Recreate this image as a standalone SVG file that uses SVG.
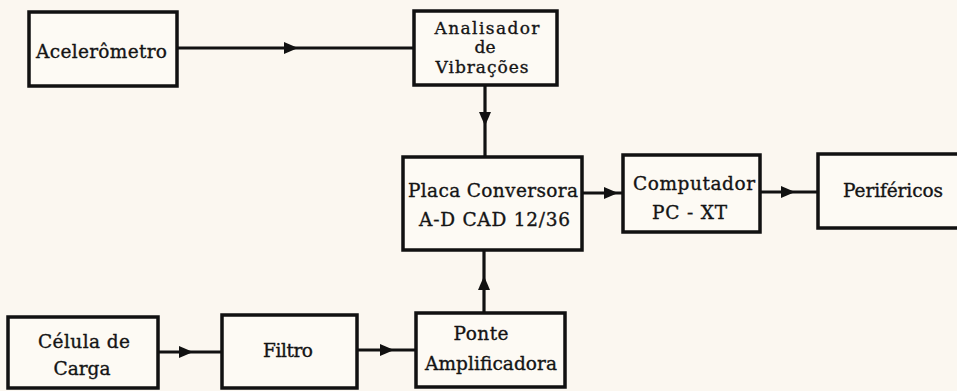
<svg xmlns="http://www.w3.org/2000/svg" width="957" height="391" viewBox="0 0 957 391">
<style>
.box{fill:#fdfaf4;stroke:#111;stroke-width:3.5}
.t{font-family:"DejaVu Serif","Liberation Serif",serif;font-size:18.5px;fill:#141414;stroke:#141414;stroke-width:0.35;text-anchor:middle}
.s{font-size:17px}
.c{fill:none;stroke:#111;stroke-width:3.2;marker-mid:url(#ah)}
</style>
<defs>
<marker id="ah" markerUnits="userSpaceOnUse" markerWidth="14" markerHeight="12" refX="13" refY="6" orient="auto" viewBox="0 0 14 12">
<path d="M0,0 L14,6 L0,12 z" fill="#111"/>
</marker>
</defs>
<rect width="957" height="391" fill="#fbf7f0"/>
<g id="connectors">
<polyline class="c" points="177,48 297,48 414,48"/>
<polyline class="c" points="485,85 485,125 485,157"/>
<polyline class="c" points="484,313 484,277 484,250"/>
<polyline class="c" points="582,193 617,193 623,193"/>
<polyline class="c" points="760,192 794,192 818,192"/>
<polyline class="c" points="158,352 192,352 222,352"/>
<polyline class="c" points="357,350 393,350 416,350"/>
</g>
<g id="acelerometro">
<rect class="box" x="29" y="12" width="148" height="74"/>
<text class="t" x="101.5" y="58" textLength="131" lengthAdjust="spacing">Acelerômetro</text>
</g>
<g id="analisador">
<rect class="box" x="414" y="11" width="143" height="74"/>
<text class="t s" x="487" y="34" textLength="105">Analisador</text>
<text class="t s" x="485" y="53">de</text>
<text class="t s" x="482" y="73" textLength="93">Vibrações</text>
</g>
<g id="placa">
<rect class="box" x="403" y="157" width="179" height="93"/>
<text class="t" x="493" y="197" textLength="170">Placa Conversora</text>
<text class="t" x="494.5" y="226" textLength="151">A-D CAD 12/36</text>
</g>
<g id="computador">
<rect class="box" x="623" y="155" width="137" height="77"/>
<text class="t" x="694" y="190" textLength="122">Computador</text>
<text class="t" x="689.5" y="219" textLength="75">PC - XT</text>
</g>
<g id="perifericos">
<rect class="box" x="818" y="154" width="145" height="74"/>
<text class="t" x="893" y="197" textLength="100">Periféricos</text>
</g>
<g id="celula">
<rect class="box" x="8" y="317" width="150" height="71"/>
<text class="t" x="84" y="348" textLength="92">Célula de</text>
<text class="t" x="82" y="375" textLength="57">Carga</text>
</g>
<g id="filtro">
<rect class="box" x="222" y="315" width="135" height="73"/>
<text class="t" x="288" y="357" textLength="50">Filtro</text>
</g>
<g id="ponte">
<rect class="box" x="416" y="313" width="149" height="74"/>
<text class="t" x="481" y="340" textLength="55">Ponte</text>
<text class="t" x="491" y="370" textLength="132">Amplificadora</text>
</g>
</svg>
